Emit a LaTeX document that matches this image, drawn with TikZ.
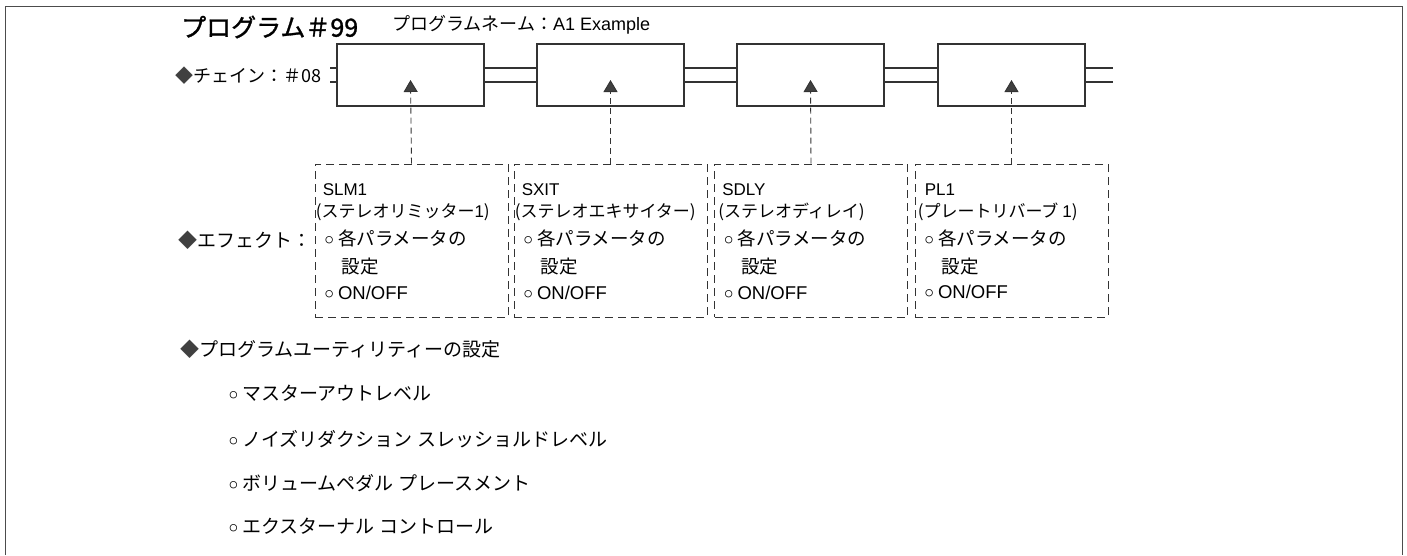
\documentclass[tikz,border=0pt]{standalone}
\usepackage{fontspec}
\setmainfont{Noto Sans CJK JP}
\newfontfamily\lat{Liberation Sans}
\newfontfamily\dv{DejaVu Sans}
\newfontfamily\ttlfont[FakeBold=1.2]{Noto Sans CJK JP}
\usetikzlibrary{arrows.meta,calc}
\newcommand{\bul}{\raisebox{-4pt}{\dv\fontsize{25}{25}\selectfont ◦}\hspace{1.5pt}}
\begin{document}
\begin{tikzpicture}[x=1pt,y=-1pt,
  chainbox/.style={draw=black!80, line width=1.1pt, minimum width=147pt, minimum height=62pt, inner sep=0pt},
  effbox/.style={draw=black!80, line width=0.9pt, dash pattern=on 8pt off 5pt, minimum width=193pt, minimum height=153pt, inner sep=0pt},
  efftext/.style={anchor=north west, inner sep=0pt, align=left, font=\fontsize{18.5}{28}\selectfont},
  conn/.style={draw=black!80, line width=0.9pt, dash pattern=on 6pt off 4pt, -{Triangle[width=14pt,length=12pt,fill=black!75]}},
  lbl/.style={anchor=west, inner sep=0pt, font=\fontsize{19}{22}\selectfont},
  wire/.style={draw=black!80, line width=1.1pt},
  frame/.style={draw=black!70, line width=1pt},
]
\useasboundingbox (0,0) rectangle (1407,555);
% outer frame
\coordinate (f1) at (5,555);
\coordinate (f2) at (5,6);
\coordinate (f3) at (1402,6);
\coordinate (f4) at (1402,555);
\draw[frame] (f1) -- (f2) -- (f3) -- (f4);

% title
\node[anchor=west, inner sep=0pt, font=\ttlfont\fontsize{25}{28}\selectfont] (title) at (181,27) {プログラム＃99};
\node[anchor=west, inner sep=0pt, font=\fontsize{18}{20}\selectfont] (pname) at (392,25) {プログラムネーム：{\lat A1 Example}};

% chain
\node[lbl, font=\fontsize{18}{20}\selectfont] (chain) at (175,76) {{\color{black!75}◆}チェイン：＃08};
\node[chainbox] (B1) at (410.5,75) {};
\node[chainbox] (B2) at (610.5,75) {};
\node[chainbox] (B3) at (810.5,75) {};
\node[chainbox] (B4) at (1011.5,75) {};
\coordinate (in1) at (330,68);
\coordinate (in2) at (330,82);
\coordinate (out1) at (1113,68);
\coordinate (out2) at (1113,82);
\draw[wire] (in1) -- ([yshift=7pt]B1.west);
\draw[wire] (in2) -- ([yshift=-7pt]B1.west);
\draw[wire] ([yshift=7pt]B1.east) -- ([yshift=7pt]B2.west);
\draw[wire] ([yshift=-7pt]B1.east) -- ([yshift=-7pt]B2.west);
\draw[wire] ([yshift=7pt]B2.east) -- ([yshift=7pt]B3.west);
\draw[wire] ([yshift=-7pt]B2.east) -- ([yshift=-7pt]B3.west);
\draw[wire] ([yshift=7pt]B3.east) -- ([yshift=7pt]B4.west);
\draw[wire] ([yshift=-7pt]B3.east) -- ([yshift=-7pt]B4.west);
\draw[wire] ([yshift=7pt]B4.east) -- (out1);
\draw[wire] ([yshift=-7pt]B4.east) -- (out2);

% effects
\node[lbl] (eff) at (178,240) {{\color{black!75}◆}エフェクト：};
\node[effbox] (D1) at (411.5,240.5) {};
\node[effbox] (D2) at (610.5,240.5) {};
\node[effbox] (D3) at (811,240.5) {};
\node[effbox] (D4) at (1011.5,240.5) {};

\node[efftext] (T1) at ($(D1.north west)+(1,20)$) {%
\hspace*{7pt}{\lat\fontsize{17}{28}\selectfont SLM1}\\[-6pt]
{\fontsize{17}{28}\selectfont (ステレオリミッター{\lat 1})}\\
\hspace*{6pt}\bul 各パラメータの\\
\hspace*{26pt}設定\\[-2.5pt]
\hspace*{6pt}\bul{\lat ON/OFF}};
\node[efftext] (T2) at ($(D2.north west)+(1,20)$) {%
\hspace*{7pt}{\lat\fontsize{17}{28}\selectfont SXIT}\\[-6pt]
{\fontsize{17}{28}\selectfont (ステレオエキサイター)}\\
\hspace*{6pt}\bul 各パラメータの\\
\hspace*{26pt}設定\\[-2.5pt]
\hspace*{6pt}\bul{\lat ON/OFF}};
\node[efftext] (T3) at ($(D3.north west)+(1,20)$) {%
\hspace*{7pt}{\lat\fontsize{17}{28}\selectfont SDLY}\\[-6pt]
{\fontsize{17}{28}\selectfont\hspace*{3pt}(ステレオディレイ)}\\
\hspace*{6pt}\bul 各パラメータの\\
\hspace*{26pt}設定\\[-2.5pt]
\hspace*{6pt}\bul{\lat ON/OFF}};
\node[efftext] (T4) at ($(D4.north west)+(1,20)$) {%
\hspace*{9pt}{\lat\fontsize{17}{28}\selectfont PL1}\\[-6pt]
{\fontsize{17}{28}\selectfont\hspace*{2pt}(プレートリバーブ {\lat 1})}\\
\hspace*{6pt}\bul 各パラメータの\\
\hspace*{26pt}設定\\[-2.5pt]
\hspace*{6pt}\bul{\lat ON/OFF}};

% connectors
\coordinate (a1) at (410.5,80);
\coordinate (a2) at (610.5,80);
\coordinate (a3) at (810.5,80);
\coordinate (a4) at (1011.5,80);
\draw[conn] (D1.north) -- (a1);
\draw[conn] (D2.north) -- (a2);
\draw[conn] (D3.north) -- (a3);
\draw[conn] (D4.north) -- (a4);

% utilities
\node[lbl] (util) at (180,349) {{\color{black!75}◆}プログラムユーティリティーの設定};
\node[lbl] (u1) at (226,395) {\bul マスターアウトレベル};
\node[lbl] (u2) at (226,440) {\bul ノイズリダクション\ スレッショルドレベル};
\node[lbl] (u3) at (226,484) {\bul ボリュームペダル\ プレースメント};
\node[lbl] (u4) at (226,528) {\bul エクスターナル\ コントロール};
\end{tikzpicture}
\end{document}
